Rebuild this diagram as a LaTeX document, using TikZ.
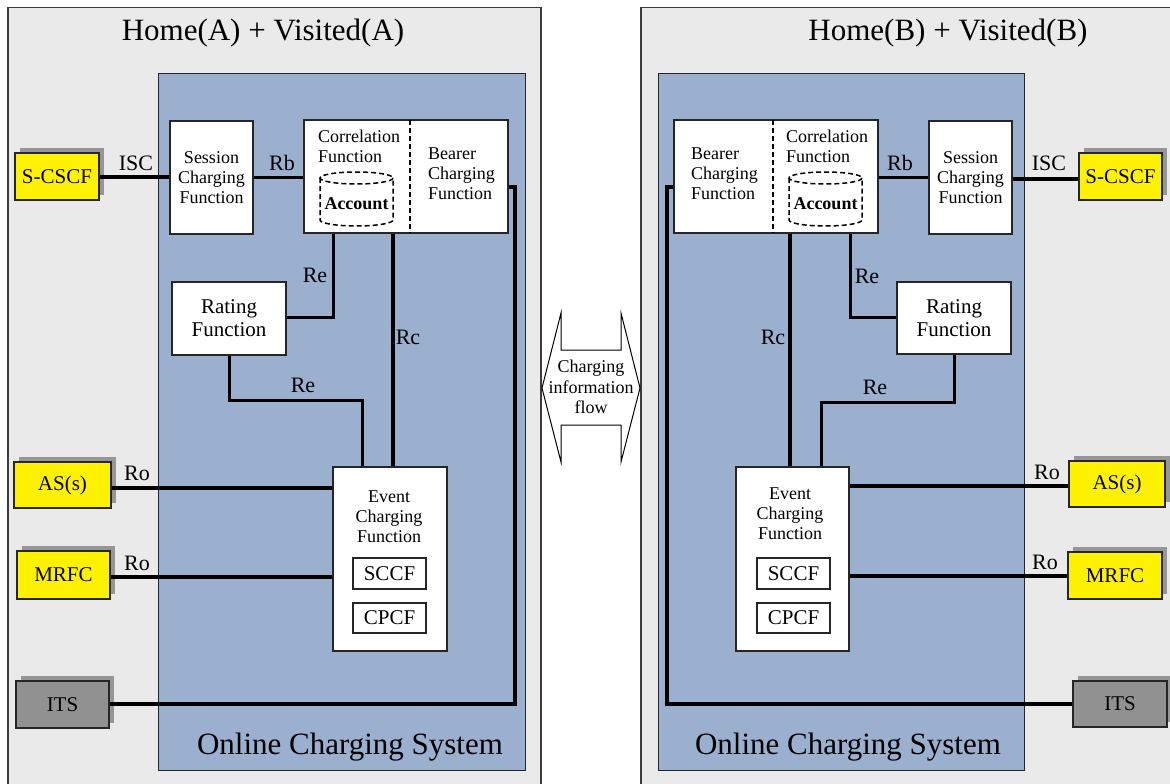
\documentclass[tikz,border=0pt]{standalone}
\usepackage{fontspec}
\setmainfont{Liberation Serif}
\usetikzlibrary{shadows}
\definecolor{outerbg}{RGB}{234,234,234}
\definecolor{ocsblue}{RGB}{155,175,207}
\definecolor{shgray}{RGB}{150,150,150}
\definecolor{itsgray}{RGB}{145,145,145}
\definecolor{edgegray}{RGB}{60,60,60}
\tikzset{
  fnbox/.style={draw=black!85, line width=1.1pt, fill=white, inner sep=0pt, align=center, font=\fontsize{18}{20}\selectfont},
  subbox/.style={fnbox, font=\fontsize{21}{23}\selectfont},
  ratebox/.style={fnbox, font=\fontsize{21}{23}\selectfont},
  extbox/.style={draw=black!85, line width=1.1pt, fill=yellow, inner sep=0pt, font=\fontsize{21}{23}\selectfont,
     drop shadow={shadow xshift=5pt, shadow yshift=5pt, fill=shgray, opacity=1}},
  itsbox/.style={extbox, fill=itsgray},
  txt/.style={inner sep=0pt, align=left, font=\fontsize{18}{20}\selectfont},
  ctxt/.style={inner sep=0pt, align=center, font=\fontsize{18}{20}\selectfont},
  lbl/.style={inner sep=0pt, font=\fontsize{22}{24}\selectfont},
  title/.style={inner sep=0pt, font=\fontsize{31}{34}\selectfont},
  conn/.style={line width=3.5pt},
  connthin/.style={line width=3pt},
  dashdiv/.style={dash pattern=on 5pt off 3pt, line width=1.5pt},
  acc/.style={dash pattern=on 5pt off 3pt, line width=1.5pt},
}
\begin{document}
\begin{tikzpicture}[x=1pt,y=-1pt]
\useasboundingbox (0,0) rectangle (1170,784);
\begin{scope}
\clip (0,0) rectangle (1170,784);
% outer areas
\fill[white] (0,0) rectangle (1170,784);
\draw[fill=outerbg, draw=edgegray, line width=1.4pt] (8,7.5) rectangle (541,800);
\draw[fill=outerbg, draw=edgegray, line width=1.4pt] (641,7.5) rectangle (1190,800);
\end{scope}
% OCS blue boxes
\draw[fill=ocsblue, draw=black!85, line width=1pt] (158,74) rectangle (525,770);
\draw[fill=ocsblue, draw=black!85, line width=1pt] (658,74) rectangle (1024,770);

\node[title] (titleA) at (263,33) {Home(A) + Visited(A)};
\node[title] (titleB) at (948,33) {Home(B) + Visited(B)};
\node[title] (ocsA) at (350,747) {Online Charging System};
\node[title] (ocsB) at (848,747) {Online Charging System};

% ================= LEFT (A) =================
\node[extbox, minimum width=84pt, minimum height=47pt] (scscfA) at (57,176.5) {S-CSCF};
\node[extbox, minimum width=97pt, minimum height=46pt] (asA) at (62.5,485) {AS(s)};
\node[extbox, minimum width=93pt, minimum height=48pt] (mrfcA) at (63.5,575) {MRFC};
\node[itsbox, minimum width=93pt, minimum height=47pt] (itsA) at (62.5,704.5) {ITS};

\node[fnbox, minimum width=83pt, minimum height=113pt] (sessA) at (211.5,177.5) {Session\\Charging\\Function};
\node[fnbox, align=left, minimum width=204pt, minimum height=113pt] (cbA) at (406,176.5) {};
\draw[dashdiv] (410,120) -- (410,233);
\node[txt, anchor=west] (corrA) at (318,146) {Correlation\\Function};
\node[txt, anchor=west] (bearA) at (428,174) {Bearer\\Charging\\Function};
\draw[acc] (356.5,178) ellipse [x radius=36.5, y radius=6];
\draw[acc] (320,178) -- (320,220) arc[start angle=180, end angle=0, x radius=36.5, y radius=6] -- (393,178);
\node[inner sep=0pt, font=\fontsize{18}{20}\selectfont\bfseries] (accA) at (356.5,204) {Account};

\node[ratebox, minimum width=114pt, minimum height=73pt] (ratingA) at (229,318.5) {Rating\\Function};
\node[fnbox, minimum width=114pt, minimum height=184pt] (eventA) at (390,559) {};
\node[ctxt] (evtxtA) at (389,517) {Event\\Charging\\Function};
\node[subbox, minimum width=73pt, minimum height=31pt] (sccfA) at (389.5,573.5) {SCCF};
\node[subbox, minimum width=73pt, minimum height=30pt] (cpcfA) at (389.5,618) {CPCF};

\draw[conn] (scscfA.east |- 0,177) -- (sessA.west |- 0,177);
\draw[connthin] (sessA.east |- 0,177) -- (cbA.west |- 0,177);
\draw[connthin] (cbA.south -| 333,0) -- (333,317) -- (ratingA.east |- 0,317);
\draw[conn] (cbA.south -| 393,0) -- (eventA.north -| 393,0);
\draw[connthin] (ratingA.south) -- (229,400) -- (362,400) -- (eventA.north -| 362,0);
\draw[conn] (asA.east |- 0,488) -- (eventA.west |- 0,488);
\draw[conn] (mrfcA.east |- 0,577) -- (eventA.west |- 0,577);
\draw[conn] (itsA.east |- 0,704) -- (515,704) -- (515,187) -- (cbA.east |- 0,187);

\node[lbl] (lisA) at (136,163) {ISC};
\node[lbl] (lrbA) at (282,163) {Rb};
\node[lbl] (lre1A) at (315,275) {Re};
\node[lbl] (lrcA) at (408,337) {Rc};
\node[lbl] (lre2A) at (303,385) {Re};
\node[lbl] (lro1A) at (137,473) {Ro};
\node[lbl] (lro2A) at (137,563) {Ro};

% ================= RIGHT (B) =================
\node[extbox, minimum width=83pt, minimum height=47pt] (scscfB) at (1120.5,176.5) {S-CSCF};
\node[extbox, minimum width=96pt, minimum height=46pt] (asB) at (1117,484) {AS(s)};
\node[extbox, minimum width=94pt, minimum height=47pt] (mrfcB) at (1115,575.5) {MRFC};
\node[itsbox, minimum width=94pt, minimum height=46pt] (itsB) at (1120,704) {ITS};

\node[fnbox, minimum width=83pt, minimum height=113pt] (sessB) at (970.5,177.5) {Session\\Charging\\Function};
\node[fnbox, minimum width=204pt, minimum height=113pt] (cbB) at (776,176.5) {};
\draw[dashdiv] (773,120) -- (773,233);
\node[txt, anchor=west] (corrB) at (786,146) {Correlation\\Function};
\node[txt, anchor=west] (bearB) at (691,174) {Bearer\\Charging\\Function};
\draw[acc] (825.5,178) ellipse [x radius=36.5, y radius=6];
\draw[acc] (789,178) -- (789,220) arc[start angle=180, end angle=0, x radius=36.5, y radius=6] -- (862,178);
\node[inner sep=0pt, font=\fontsize{18}{20}\selectfont\bfseries] (accB) at (825.5,204) {Account};

\node[ratebox, minimum width=114pt, minimum height=72pt] (ratingB) at (954,318) {Rating\\Function};
\node[fnbox, minimum width=113pt, minimum height=184pt] (eventB) at (792.5,559) {};
\node[ctxt] (evtxtB) at (790,514) {Event\\Charging\\Function};
\node[subbox, minimum width=73pt, minimum height=31pt] (sccfB) at (793.5,573.5) {SCCF};
\node[subbox, minimum width=73pt, minimum height=30pt] (cpcfB) at (793.5,618) {CPCF};

\draw[conn] (sessB.east |- 0,179) -- (scscfB.west |- 0,179);
\draw[connthin] (cbB.east |- 0,177) -- (sessB.west |- 0,177);
\draw[connthin] (cbB.south -| 850,0) -- (850,317) -- (ratingB.west |- 0,317);
\draw[conn] (cbB.south -| 790,0) -- (eventB.north -| 790,0);
\draw[connthin] (ratingB.south) -- (954,402) -- (821,402) -- (eventB.north -| 821,0);
\draw[conn] (eventB.east |- 0,486) -- (asB.west |- 0,486);
\draw[conn] (eventB.east |- 0,576) -- (mrfcB.west |- 0,576);
\draw[conn] (itsB.west |- 0,704) -- (667,704) -- (667,187) -- (cbB.west |- 0,187);

\node[lbl] (lisB) at (1049,163) {ISC};
\node[lbl] (lrbB) at (900,163) {Rb};
\node[lbl] (lre1B) at (867,276) {Re};
\node[lbl] (lrcB) at (773,337) {Rc};
\node[lbl] (lre2B) at (875,387) {Re};
\node[lbl] (lro1B) at (1047,472) {Ro};
\node[lbl] (lro2B) at (1045,562) {Ro};

% ================= central double arrow =================
\draw[fill=white, draw=black, line width=1pt] (542,388) -- (561,313) -- (561,350) -- (621,350) -- (621,313) -- (640,388) -- (621,462) -- (621,425) -- (561,425) -- (561,462) -- cycle;
\node[inner sep=0pt, align=center, font=\fontsize{18}{20.5}\selectfont] (flow) at (591,387) {Charging\\information\\flow};
\end{tikzpicture}
\end{document}
